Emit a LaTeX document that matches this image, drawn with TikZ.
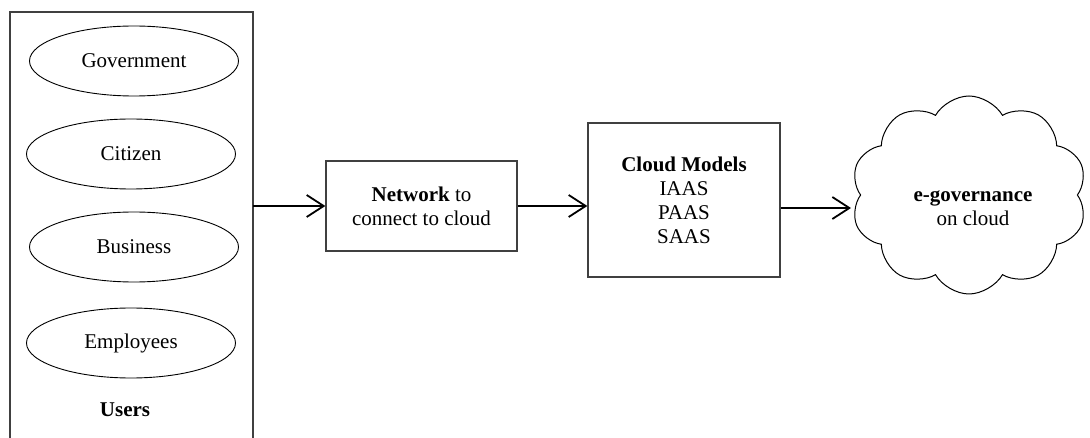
\documentclass[tikz,border=0pt]{standalone}
\usepackage{fontspec}
\setmainfont{Liberation Serif}
\usetikzlibrary{shapes.geometric,shapes.symbols,arrows.meta}
\begin{document}
\begin{tikzpicture}[x=1pt,y=-1pt,
  every node/.style={font=\fontsize{21}{24}\selectfont},
  user/.style={draw=black,line width=0.9pt,ellipse,minimum width=209pt,minimum height=70pt,inner sep=0pt},
  boxnode/.style={draw=black!75,line width=1.3pt,rectangle,align=center,inner sep=0pt},
  arr/.style={line width=1.8pt,-{Straight Barb[length=17pt,width=22pt,line width=1.8pt]}},
  cloudnode/.style={draw=black,line width=1pt,cloud,cloud puffs=10,cloud puff arc=120,minimum width=236pt,minimum height=198pt,inner sep=0pt}]
\useasboundingbox (0,0) rectangle (1090,438);
% Users container (open at the bottom)
\coordinate (ubl) at (10,438);
\coordinate (utl) at (10,12);
\coordinate (utr) at (253,12);
\coordinate (ubr) at (253,438);
\draw[draw=black!75,line width=1.3pt] (ubl) -- (utl) -- (utr) -- (ubr);
\node[user] (gov) at (134,61) {Government};
\node[user] (cit) at (131,154) {Citizen};
\node[user] (bus) at (134,247) {Business};
\node[user] (emp) at (131,343) {Employees};
\node (users) at (125,410) {\textbf{Users}};
% Network box
\node[boxnode,minimum width=191pt,minimum height=90pt] (net) at (421.5,206) {\textbf{Network} to\\connect to cloud};
% Cloud models box
\node[boxnode,minimum width=192pt,minimum height=154pt] (cm) at (684,200) {\textbf{Cloud Models}\\IAAS\\PAAS\\SAAS};
% Cloud
\node[cloudnode] (cloud) at (969,195) {};
\node[align=center] (ctext) at (973,208) {\textbf{e-governance}\\on cloud};
% connectors
\coordinate (usersout) at (253,206);
\coordinate (cloudin) at (851,208);
\draw[arr] (usersout) -- (net.west);
\draw[arr] (net.east) -- (cm.west |- net.east);
\draw[arr] (cm.east |- cloudin) -- (cloudin);
\end{tikzpicture}
\end{document}
